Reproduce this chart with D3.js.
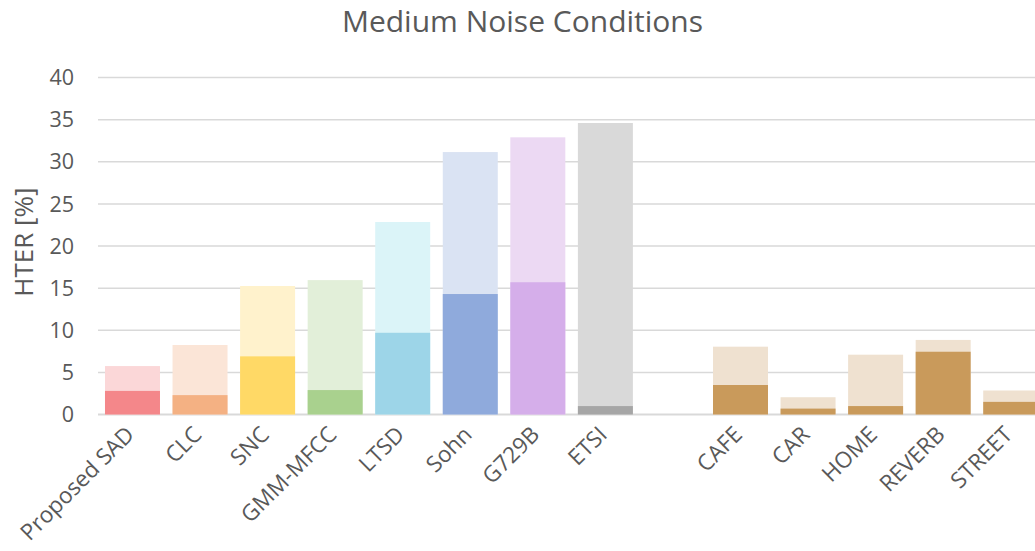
<!DOCTYPE html>
<html>
<head>
<meta charset="utf-8">
<script src="https://cdn.jsdelivr.net/npm/d3@7"></script>
<style>
  html, body { margin: 0; padding: 0; background: #fff; }
  svg { display: block; font-family: "Open Sans", "Noto Sans", sans-serif; }
</style>
</head>
<body>
<svg id="chart" width="1035" height="551"></svg>
<script>
// Categories along the x axis ("" is the empty slot separating the two groups)
const categories = ["Proposed SAD", "CLC", "SNC", "GMM-MFCC", "LTSD", "Sohn", "G729B", "ETSI", "",
                    "CAFE", "CAR", "HOME", "REVERB", "STREET"];
// Lower (darker) segment of each bar, HTER [%]
const lowerValues = [2.8, 2.3, 6.9, 2.9, 9.7, 14.3, 15.7, 1.0, null, 3.5, 0.7, 1.0, 7.45, 1.5];
// Total height of each bar (lighter segment reaches this), HTER [%]
const totalValues = [5.75, 8.25, 15.25, 15.95, 22.85, 31.15, 32.9, 34.6, null, 8.05, 2.05, 7.1, 8.85, 2.85];
// Fill colours: darker and lighter shade per bar
const darkColors  = ["#F4878A", "#F4B183", "#FFD966", "#A9D18E", "#9DD5E8", "#8FAADC", "#D5AEEA", "#A6A6A6", null,
                     "#C99A5B", "#C99A5B", "#C99A5B", "#C99A5B", "#C99A5B"];
const lightColors = ["#FBD7D8", "#FBE5D7", "#FFF2CC", "#E2EFD9", "#DBF4F8", "#DAE3F3", "#ECD9F3", "#D9D9D9", null,
                     "#EFE1D0", "#EFE1D0", "#EFE1D0", "#EFE1D0", "#EFE1D0"];
const yTicks = [0, 5, 10, 15, 20, 25, 30, 35, 40];

const svg = d3.select("#chart");
const textColor = "#595959";

const x = d3.scaleBand()
  .domain(categories.map((c, i) => i))
  .range([98.7, 1044.5])
  .paddingInner(0.186)
  .paddingOuter(0.093);

const y = d3.scaleLinear().domain([0, 40]).range([414.5, 77.5]);

// Horizontal gridlines
svg.append("g")
  .selectAll("line")
  .data(yTicks)
  .join("line")
  .attr("x1", 98).attr("x2", 1035)
  .attr("y1", d => y(d)).attr("y2", d => y(d))
  .attr("stroke", "#D9D9D9")
  .attr("stroke-width", d => d === 0 ? 2 : 1.5);

// Y tick labels
svg.append("g")
  .selectAll("text")
  .data(yTicks)
  .join("text")
  .attr("x", 74)
  .attr("y", d => y(d))
  .attr("dy", "0.36em")
  .attr("text-anchor", "end")
  .attr("fill", textColor)
  .attr("font-size", 21.5)
  .text(d => d);

// Bars: lighter total first, darker lower segment on top
const idx = categories.map((c, i) => i).filter(i => totalValues[i] != null);
const bars = svg.append("g");
bars.selectAll("rect.total")
  .data(idx)
  .join("rect")
  .attr("class", "total")
  .attr("x", i => x(i))
  .attr("width", x.bandwidth())
  .attr("y", i => y(totalValues[i]))
  .attr("height", i => y(0) - y(totalValues[i]))
  .attr("fill", i => lightColors[i]);
bars.selectAll("rect.lower")
  .data(idx)
  .join("rect")
  .attr("class", "lower")
  .attr("x", i => x(i))
  .attr("width", x.bandwidth())
  .attr("y", i => y(lowerValues[i]))
  .attr("height", i => y(0) - y(lowerValues[i]))
  .attr("fill", i => darkColors[i]);

// Rotated category labels
svg.append("g")
  .selectAll("text")
  .data(idx)
  .join("text")
  .attr("transform", i => `translate(${x(i) + x.bandwidth() / 2 + 3},${436}) rotate(-45)`)
  .attr("text-anchor", "end")
  .attr("fill", textColor)
  .attr("font-size", 22.5)
  .text(i => categories[i]);

// Axis title
svg.append("text")
  .attr("transform", "translate(33,242) rotate(-90)")
  .attr("text-anchor", "middle")
  .attr("fill", textColor)
  .attr("font-size", 26)
  .text("HTER [%]");

// Chart title
svg.append("text")
  .attr("x", 522.5)
  .attr("y", 32)
  .attr("text-anchor", "middle")
  .attr("fill", textColor)
  .attr("font-size", 30)
  .text("Medium Noise Conditions");
</script>
</body>
</html>
